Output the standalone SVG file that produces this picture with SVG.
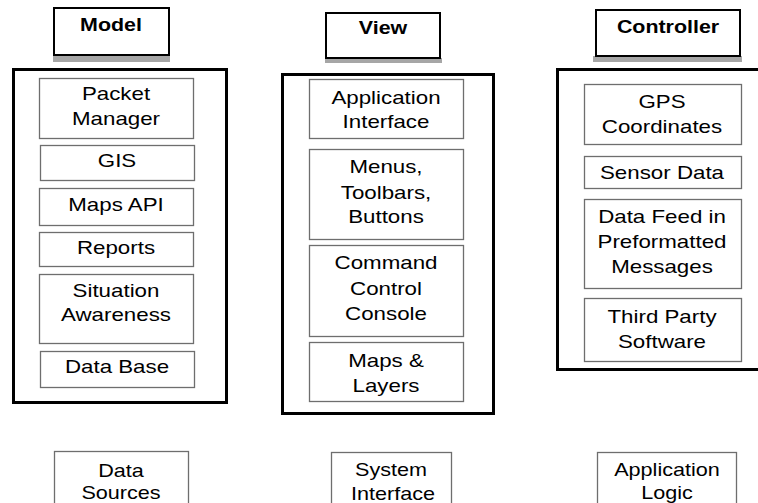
<svg xmlns="http://www.w3.org/2000/svg" width="758" height="503" viewBox="0 0 758 503">
<style>
text{font-family:"Liberation Sans",Arial,sans-serif;font-size:18px;fill:#000;text-anchor:middle}
.t{font-weight:bold}
.title{fill:#fff;stroke:#000;stroke-width:2}
.shadow{fill:#a6a6a6}
.outer{fill:#fff;stroke:#000;stroke-width:3}
.inner{fill:#fff;stroke:#6e6e6e;stroke-width:1.3}
</style>
<rect width="758" height="503" fill="#fff"/>

<g id="model-title">
<rect class="shadow" x="53" y="55" width="117" height="7"/>
<rect class="title" x="54" y="8" width="115" height="47"/>
<text class="t" transform="translate(111 31) scale(1.19 1)">Model</text>
</g>
<g id="view-title">
<rect class="shadow" x="325" y="58" width="117" height="5"/>
<rect class="title" x="326" y="13" width="114" height="45"/>
<text class="t" transform="translate(383 34) scale(1.19 1)">View</text>
</g>
<g id="controller-title">
<rect class="shadow" x="593" y="56" width="149" height="6"/>
<rect class="title" x="596" y="10" width="144" height="46"/>
<text class="t" transform="translate(668 33) scale(1.19 1)">Controller</text>
</g>

<g id="model">
<rect class="outer" x="13.5" y="69.5" width="213" height="333"/>
<g id="packet-manager"><rect class="inner" x="39.5" y="78.5" width="154" height="60"/>
<text transform="translate(116 100) scale(1.24 1)">Packet</text>
<text transform="translate(116 125) scale(1.24 1)">Manager</text></g>
<g id="gis"><rect class="inner" x="40.5" y="145.5" width="154" height="35"/>
<text transform="translate(117 167) scale(1.24 1)">GIS</text></g>
<g id="maps-api"><rect class="inner" x="39.5" y="188.5" width="154" height="37"/>
<text transform="translate(116 211) scale(1.24 1)">Maps API</text></g>
<g id="reports"><rect class="inner" x="39.5" y="232.5" width="154" height="34"/>
<text transform="translate(116 254) scale(1.24 1)">Reports</text></g>
<g id="situation-awareness"><rect class="inner" x="39.5" y="274.5" width="154" height="69"/>
<text transform="translate(116 297) scale(1.24 1)">Situation</text>
<text transform="translate(116 321) scale(1.24 1)">Awareness</text></g>
<g id="data-base"><rect class="inner" x="40.5" y="351.5" width="154" height="36"/>
<text transform="translate(117 373) scale(1.24 1)">Data Base</text></g>
</g>

<g id="view">
<rect class="outer" x="282.5" y="74.5" width="211" height="339"/>
<g id="application-interface"><rect class="inner" x="309.5" y="79.5" width="154" height="59"/>
<text transform="translate(386 104) scale(1.24 1)">Application</text>
<text transform="translate(386 128) scale(1.24 1)">Interface</text></g>
<g id="menus"><rect class="inner" x="309.5" y="149.5" width="154" height="90"/>
<text transform="translate(386 173) scale(1.24 1)">Menus,</text>
<text transform="translate(386 199) scale(1.24 1)">Toolbars,</text>
<text transform="translate(386 223) scale(1.24 1)">Buttons</text></g>
<g id="command-control"><rect class="inner" x="309.5" y="245.5" width="154" height="91"/>
<text transform="translate(386 269) scale(1.24 1)">Command</text>
<text transform="translate(386 295) scale(1.24 1)">Control</text>
<text transform="translate(386 320) scale(1.24 1)">Console</text></g>
<g id="maps-layers"><rect class="inner" x="309.5" y="342.5" width="154" height="59"/>
<text transform="translate(386 367) scale(1.24 1)">Maps &amp;</text>
<text transform="translate(386 392) scale(1.24 1)">Layers</text></g>
</g>

<g id="controller">
<rect class="outer" x="557.5" y="69.5" width="215" height="300"/>
<g id="gps"><rect class="inner" x="584.5" y="84.5" width="157" height="60"/>
<text transform="translate(662 108) scale(1.24 1)">GPS</text>
<text transform="translate(662 133) scale(1.24 1)">Coordinates</text></g>
<g id="sensor-data"><rect class="inner" x="584.5" y="156.5" width="157" height="32"/>
<text transform="translate(662 179) scale(1.24 1)">Sensor Data</text></g>
<g id="data-feed"><rect class="inner" x="584.5" y="199.5" width="157" height="89"/>
<text transform="translate(662 223) scale(1.24 1)">Data Feed in</text>
<text transform="translate(662 248) scale(1.24 1)">Preformatted</text>
<text transform="translate(662 273) scale(1.24 1)">Messages</text></g>
<g id="third-party"><rect class="inner" x="584.5" y="298.5" width="157" height="63"/>
<text transform="translate(662 323) scale(1.24 1)">Third Party</text>
<text transform="translate(662 348) scale(1.24 1)">Software</text></g>
</g>

<g id="data-sources"><rect class="inner" x="54.5" y="451.5" width="134" height="60"/>
<text transform="translate(121 477) scale(1.2 1)">Data</text>
<text transform="translate(121 499) scale(1.2 1)">Sources</text></g>
<g id="system-interface"><rect class="inner" x="331.5" y="452.5" width="120" height="60"/>
<text transform="translate(391 476) scale(1.2 1)">System</text>
<text transform="translate(393 500) scale(1.2 1)">Interface</text></g>
<g id="application-logic"><rect class="inner" x="597.5" y="452.5" width="139" height="60"/>
<text transform="translate(667 476) scale(1.2 1)">Application</text>
<text transform="translate(667 499) scale(1.2 1)">Logic</text></g>
<g id="connectors"></g>
</svg>
